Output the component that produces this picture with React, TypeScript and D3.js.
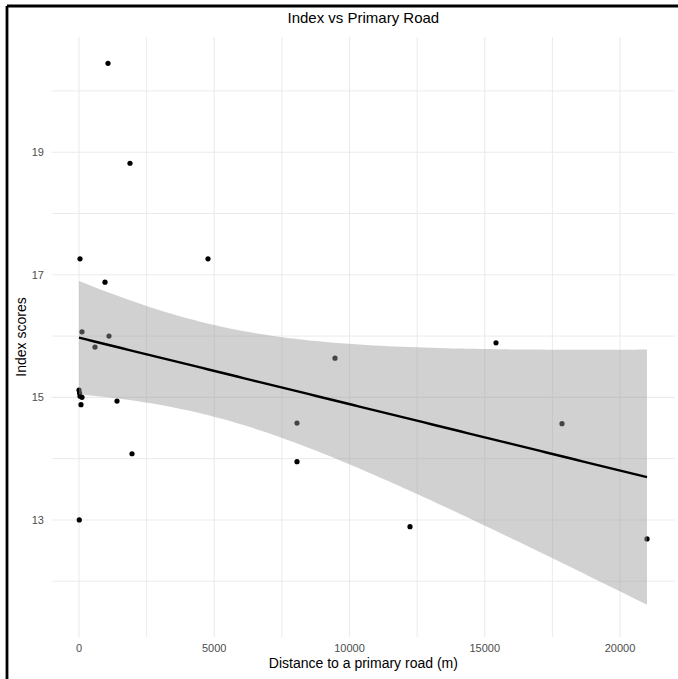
import React from "react";
import * as d3 from "d3";

// Distance to a primary road (m)
const distance = [
  1072, 1885, 37, 4769, 961, 111, 1109, 591,
  0, 20, 40, 111, 74,
  1405, 1960, 10, 8059, 8059, 9464, 12237, 15416, 17856, 20998,
];
// Index scores
const scores = [
  20.45, 18.82, 17.26, 17.26, 16.88, 16.07, 16.0, 15.82,
  15.12, 15.07, 15.02, 15.0, 14.88,
  14.94, 14.08, 13.0, 14.58, 13.95, 15.64, 12.89, 15.89, 14.57, 12.69,
];
const xTicks = [0, 5000, 10000, 15000, 20000];
const xMinor = [2500, 7500, 12500, 17500];
const yTicks = [13, 15, 17, 19];
const yMinor = [12, 14, 16, 18, 20];
const title = "Index vs Primary Road";
const xTitle = "Distance to a primary road (m)";
const yTitle = "Index scores";
const T_CRIT = 2.0796; // t(0.975, df = 21)

const W = 678;
const H = 679;
const panel = { left: 51.7, right: 675, top: 37, bottom: 637 };

export default function App() {
  const x = d3.scaleLinear().domain([-1009, 22033]).range([panel.left, panel.right]);
  const y = d3.scaleLinear().domain([11.09, 20.88]).range([panel.bottom, panel.top]);

  const n = distance.length;
  const mx = d3.mean(distance) as number;
  const my = d3.mean(scores) as number;
  let sxx = 0, sxy = 0;
  for (let i = 0; i < n; i++) {
    sxx += (distance[i] - mx) ** 2;
    sxy += (distance[i] - mx) * (scores[i] - my);
  }
  const b = sxy / sxx;
  const a = my - b * mx;
  let sse = 0;
  for (let i = 0; i < n; i++) sse += (scores[i] - (a + b * distance[i])) ** 2;
  const s = Math.sqrt(sse / (n - 2));
  const [xmin, xmax] = d3.extent(distance) as [number, number];
  const grid = d3.range(80).map((i) => xmin + ((xmax - xmin) * i) / 79);
  const fit = grid.map((gx) => {
    const yhat = a + b * gx;
    const se = s * Math.sqrt(1 / n + (gx - mx) ** 2 / sxx);
    return { gx, yhat, lo: yhat - T_CRIT * se, hi: yhat + T_CRIT * se };
  });
  const area = d3
    .area<any>()
    .x((d) => x(d.gx))
    .y0((d) => y(d.lo))
    .y1((d) => y(d.hi));
  const line = d3
    .line<any>()
    .x((d) => x(d.gx))
    .y((d) => y(d.yhat));

  const font = "'Liberation Sans', Arial, Helvetica, sans-serif";
  const gridColor = "#ebebeb";

  return (
    <svg
      width={W}
      height={H}
      style={{ position: "absolute", left: 0, top: 0, background: "#fff" }}
      fontFamily={font}
    >
      <rect x={0} y={0} width={W} height={H} fill="#fff" />
      {yMinor.map((v) => (
        <line key={"ym" + v} x1={panel.left} x2={panel.right} y1={y(v)} y2={y(v)} stroke={gridColor} strokeWidth={1} />
      ))}
      {xMinor.map((v) => (
        <line key={"xm" + v} x1={x(v)} x2={x(v)} y1={panel.top} y2={panel.bottom} stroke={gridColor} strokeWidth={1} />
      ))}
      {yTicks.map((v) => (
        <line key={"yM" + v} x1={panel.left} x2={panel.right} y1={y(v)} y2={y(v)} stroke={gridColor} strokeWidth={1.1} />
      ))}
      {xTicks.map((v) => (
        <line key={"xM" + v} x1={x(v)} x2={x(v)} y1={panel.top} y2={panel.bottom} stroke={gridColor} strokeWidth={1.1} />
      ))}
      {distance.map((d, i) => (
        <circle key={"p" + i} cx={x(d)} cy={y(scores[i])} r={2.6} fill="#000" />
      ))}
      <path d={area(fit) as string} fill="#999999" fillOpacity={0.45} />
      <path d={line(fit) as string} fill="none" stroke="#000" strokeWidth={2.4} />
      {yTicks.map((v) => (
        <text key={"yl" + v} x={44} y={y(v)} dy="0.35em" textAnchor="end" fontSize={11} fill="#4d4d4d">
          {v}
        </text>
      ))}
      {xTicks.map((v) => (
        <text key={"xl" + v} x={x(v)} y={648} dy="0.35em" textAnchor="middle" fontSize={11} fill="#4d4d4d">
          {v}
        </text>
      ))}
      <text x={(panel.left + panel.right) / 2} y={23} textAnchor="middle" fontSize={15} fill="#000">
        {title}
      </text>
      <text x={(panel.left + panel.right) / 2} y={668} textAnchor="middle" fontSize={14} fill="#000">
        {xTitle}
      </text>
      <text
        transform={`translate(26, ${(panel.top + panel.bottom) / 2}) rotate(-90)`}
        textAnchor="middle"
        fontSize={14}
        fill="#000"
      >
        {yTitle}
      </text>
      <line x1={7} x2={W} y1={6} y2={6} stroke="#000" strokeWidth={2.8} />
      <line x1={7} x2={7} y1={6} y2={H} stroke="#000" strokeWidth={2.8} />
    </svg>
  );
}
